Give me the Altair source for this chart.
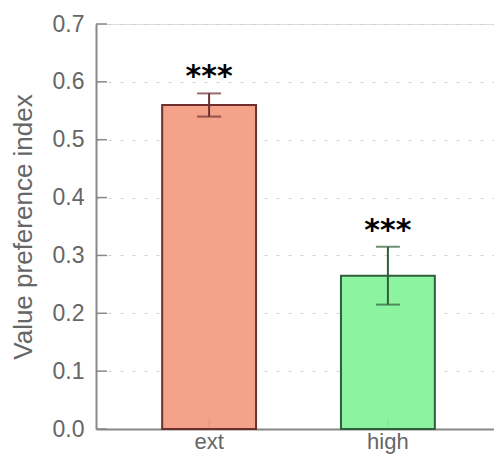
import altair as alt
import pandas as pd

groups = ["ext", "high"]
means = [0.56, 0.265]
errs = [0.02, 0.05]
stars = ["***", "***"]
fills = ["#f39a80", "#82f299"]
strokes = ["#6e2f2f", "#2f5f3a"]
yticks = [0.0, 0.1, 0.2, 0.3, 0.4, 0.5, 0.6, 0.7]

df = pd.DataFrame({"group": groups, "mean": means, "err": errs, "stars": stars})
df["lo"] = df["mean"] - df["err"]
df["hi"] = df["mean"] + df["err"]
tick_df = pd.DataFrame({"v": yticks})

FONT = "Liberation Sans"
AX = "#888888"

xenc = alt.X("group:N", sort=groups,
             scale=alt.Scale(paddingInner=0.475, paddingOuter=0.37, range=[0, 405]),
             axis=alt.Axis(title=None, labelAngle=0, ticks=False, domainColor=AX,
                           domainWidth=2, labelFontSize=22, labelColor="#666666",
                           labelPadding=2, labelFont=FONT, grid=False))
yscale = alt.Scale(domain=[0, 0.7], nice=False)
yaxis = alt.Axis(title="Value preference index", values=yticks, format=".1f",
                 ticks=False, grid=True, gridDash=[3, 9], gridColor="#d0d0d0",
                 gridWidth=1.2, domainColor=AX, domainWidth=2, labelFontSize=23,
                 labelColor="#666666", labelFont=FONT, labelPadding=12,
                 titleFont=FONT, titleFontSize=26, titleFontWeight="normal",
                 titleColor="#666666", titlePadding=16)

color = alt.Color("group:N", scale=alt.Scale(domain=groups, range=fills), legend=None)
stroke = alt.Stroke("group:N", scale=alt.Scale(domain=groups, range=strokes), legend=None)
capcolor = alt.Color("group:N", scale=alt.Scale(domain=groups, range=strokes), legend=None)

base = alt.Chart(df)

xticks = base.mark_rule(color=AX, strokeWidth=1.5).encode(
    x=xenc, y=alt.value(405), y2=alt.value(394))

bars = base.mark_bar(strokeWidth=2, fillOpacity=0.92).encode(
    x=xenc, y=alt.Y("mean:Q", scale=yscale, axis=yaxis), color=color, stroke=stroke)

ytk = alt.Chart(tick_df).mark_rule(color=AX, strokeWidth=1.5).encode(
    y=alt.Y("v:Q", scale=yscale, axis=yaxis), x=alt.value(0), x2=alt.value(11))

rules = base.mark_rule(strokeWidth=2).encode(
    x=xenc, y=alt.Y("lo:Q", scale=yscale), y2="hi:Q", stroke=stroke)
cap_hi = base.mark_tick(size=24, thickness=2).encode(
    x=xenc, y=alt.Y("hi:Q", scale=yscale), color=capcolor)
cap_lo = base.mark_tick(size=24, thickness=2).encode(
    x=xenc, y=alt.Y("lo:Q", scale=yscale), color=capcolor)

txt = base.mark_text(fontSize=30, fontWeight="bold", font="DejaVu Sans",
                     baseline="alphabetic", dy=-7, color="black").encode(
    x=xenc, y=alt.Y("hi:Q", scale=yscale), text="stars:N")

chart = alt.layer(xticks, bars, ytk, rules, cap_hi, cap_lo, txt).resolve_scale(
    color="independent").properties(
    width=398, height=405,
    autosize=alt.AutoSizeParams(type="none"),
    padding={"left": 88, "top": 16, "right": 0, "bottom": 25},
).configure_view(stroke=None).configure(background="white")

chart.save("out.html", embed_options={"renderer": "svg", "actions": False})
